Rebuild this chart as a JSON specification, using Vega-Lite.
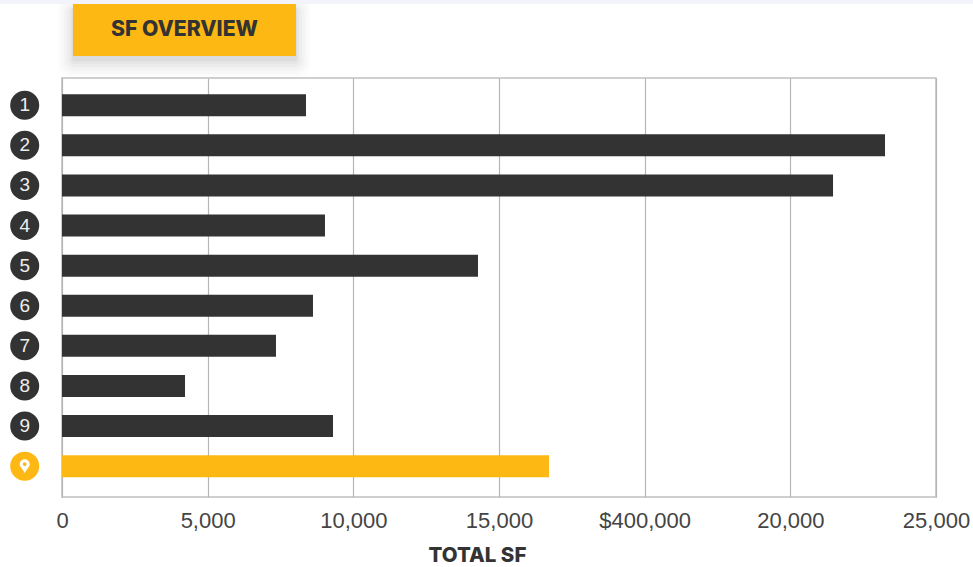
{
 "$schema":"https://vega.github.io/schema/vega-lite/v6.json",
 "width":874,"height":419,
 "autosize":{"type":"none"},
 "padding":{"left":62,"top":78,"right":37,"bottom":70},
 "background":"#ffffff",
 "config":{"view":{"stroke":"#c0c0c0","strokeWidth":1.5}},
 "data":{"values":[
  {"row":1,"label":"1","sf":8375,"kind":"peer"},
  {"row":2,"label":"2","sf":23250,"kind":"peer"},
  {"row":3,"label":"3","sf":21466,"kind":"peer"},
  {"row":4,"label":"4","sf":9027,"kind":"peer"},
  {"row":5,"label":"5","sf":14279,"kind":"peer"},
  {"row":6,"label":"6","sf":8615,"kind":"peer"},
  {"row":7,"label":"7","sf":7345,"kind":"peer"},
  {"row":8,"label":"8","sf":4222,"kind":"peer"},
  {"row":9,"label":"9","sf":9302,"kind":"peer"},
  {"row":10,"label":"","sf":15858,"kind":"subject"}
 ]},
 "layer":[
  {"data":{"values":[{}]},"mark":{"type":"rect","color":"#000000","opacity":0.012,"cornerRadius":14},
   "encoding":{"x":{"datum":-137,"type":"quantitative","scale":{"domain":[0,15000,20000,25000],"range":[0,437,728.33,874],"nice":false,"zero":false,"padding":0},"axis":{"values":[0,5000,10000,15000,17500,20000,25000],"title":"TOTAL SF","titleFont":"Inter","titleFontWeight":800,"titleFontSize":20.5,"titleColor":"#333333","titleX":415,"titleY":48,"labelExpr":"datum.value==17500?'$400,000':format(datum.value,',')","labelFont":"Liberation Sans","labelFontSize":22,"labelColor":"#444444","labelPadding":13,"labelOverlap":false,"labelBound":false,"labelFlush":false,"ticks":false,"domain":false,"grid":true,"gridColor":"#b5b5b5","gridWidth":1.2}},"x2":{"datum":8545},
    "y":{"datum":-1.725,"type":"quantitative","scale":{"domain":[0.32,10.77],"reverse":true,"nice":false,"zero":false,"padding":0},"axis":null},"y2":{"datum":0.3}}},
  {"data":{"values":[{}]},"mark":{"type":"rect","color":"#000000","opacity":0.016,"cornerRadius":12},
   "encoding":{"x":{"datum":-34,"type":"quantitative"},"x2":{"datum":8442},"y":{"datum":-1.625,"type":"quantitative"},"y2":{"datum":0.22}}},
  {"data":{"values":[{}]},"mark":{"type":"rect","color":"#000000","opacity":0.02,"cornerRadius":10},
   "encoding":{"x":{"datum":69,"type":"quantitative"},"x2":{"datum":8340},"y":{"datum":-1.55,"type":"quantitative"},"y2":{"datum":0.14}}},
  {"data":{"values":[{}]},"mark":{"type":"rect","color":"#000000","opacity":0.025,"cornerRadius":8},
   "encoding":{"x":{"datum":172,"type":"quantitative"},"x2":{"datum":8237},"y":{"datum":-1.5,"type":"quantitative"},"y2":{"datum":0.06}}},
  {"data":{"values":[{}]},"mark":{"type":"rect","color":"#000000","opacity":0.03,"cornerRadius":5},
   "encoding":{"x":{"datum":275,"type":"quantitative"},"x2":{"datum":8134},"y":{"datum":-1.451,"type":"quantitative"},"y2":{"datum":-0.02}}},
  {"data":{"values":[{}]},"mark":{"type":"rect","color":"#000000","opacity":0.035,"cornerRadius":3},
   "encoding":{"x":{"datum":343,"type":"quantitative"},"x2":{"datum":8066},"y":{"datum":-1.451,"type":"quantitative"},"y2":{"datum":-0.1}}},
  {"data":{"values":[{}]},"mark":{"type":"rect","color":"#f3f3fb"},
   "encoding":{"x":{"datum":-2128,"type":"quantitative"},"x2":{"datum":26270},"y":{"datum":-1.625,"type":"quantitative"},"y2":{"datum":-1.525}}},
  {"data":{"values":[{}]},"mark":{"type":"rect","color":"#fdb813"},
   "encoding":{"x":{"datum":378,"type":"quantitative"},"x2":{"datum":8031},"y":{"datum":-1.525,"type":"quantitative"},"y2":{"datum":-0.229}}},
  {"data":{"values":[{"t":"SF OVERVIEW"}]},"mark":{"type":"text","font":"Inter","fontWeight":800,"fontSize":21.2,"color":"#333333","align":"center","baseline":"middle"},
   "encoding":{"x":{"datum":4204,"type":"quantitative"},"y":{"datum":-0.877,"type":"quantitative"},"text":{"field":"t"}}},
  {"mark":{"type":"bar","orient":"horizontal","size":22},
   "encoding":{"x":{"field":"sf","type":"quantitative","stack":null},"y":{"field":"row","type":"quantitative"},
    "color":{"field":"kind","type":"nominal","scale":{"domain":["peer","subject"],"range":["#333333","#fdb813"]},"legend":null}}},
  {"mark":{"type":"point","shape":"circle","filled":true,"size":841,"opacity":1},
   "encoding":{"x":{"datum":-1280,"type":"quantitative"},"y":{"field":"row","type":"quantitative"},
    "color":{"field":"kind","type":"nominal"}}},
  {"mark":{"type":"text","font":"Liberation Sans","fontSize":19,"color":"#eeeeee","align":"center","baseline":"middle"},
   "encoding":{"x":{"datum":-1280,"type":"quantitative"},"y":{"field":"row","type":"quantitative"},"text":{"field":"label"}}},
  {"transform":[{"filter":"datum.kind=='subject'"}],
   "mark":{"type":"point","filled":true,"opacity":1,"color":"#ffffff","size":784,"shape":"M0,0.5 C-0.1,0.25 -0.36,0.05 -0.36,-0.14 A0.36,0.36 0 1 1 0.36,-0.14 C0.36,0.05 0.1,0.25 0,0.5 Z M0.13,-0.14 A0.13,0.13 0 1 0 -0.13,-0.14 A0.13,0.13 0 1 0 0.13,-0.14 Z"},
   "encoding":{"x":{"datum":-1280,"type":"quantitative"},"y":{"field":"row","type":"quantitative"}}}
 ]
}
